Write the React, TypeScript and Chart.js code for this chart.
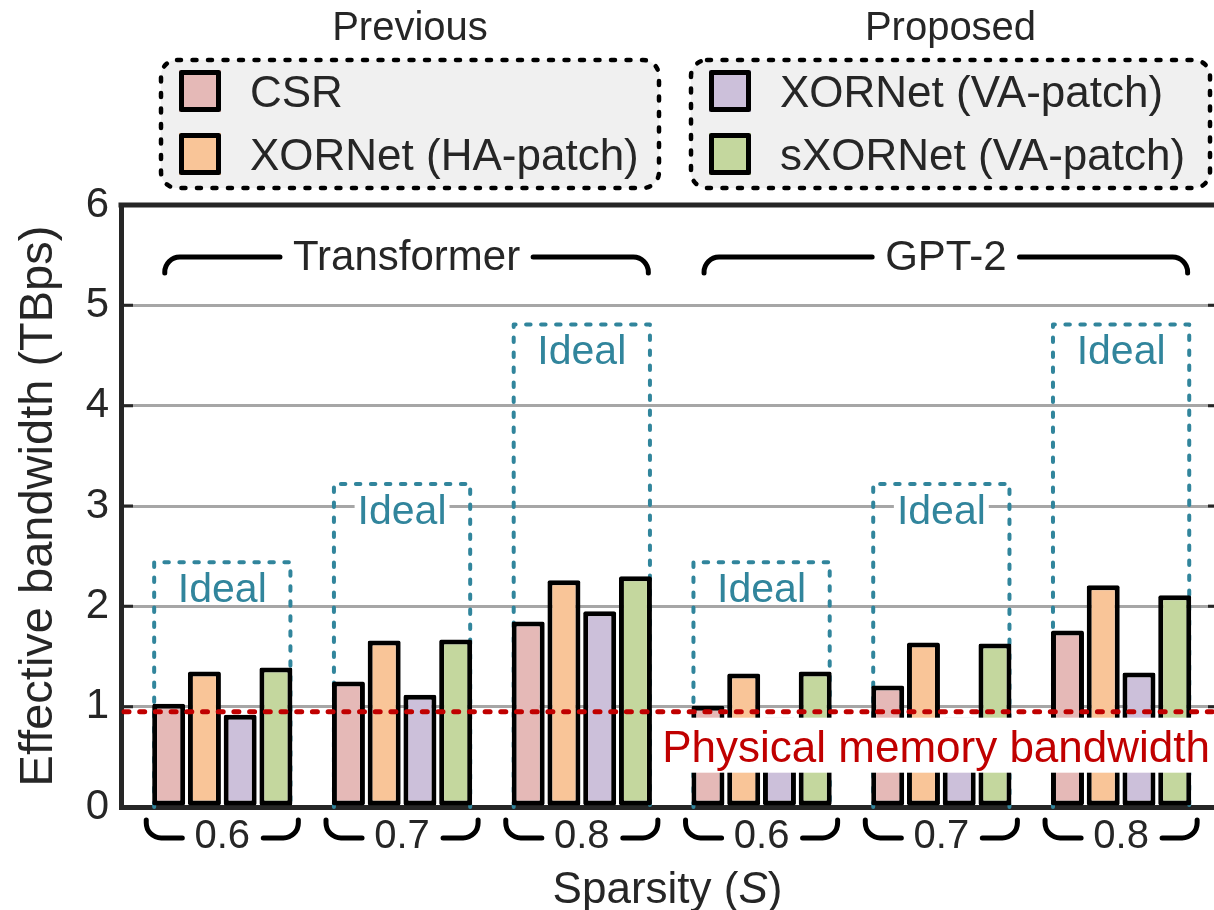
import React, { useEffect, useRef } from 'react';
import { Chart, registerables } from 'chart.js';

Chart.register(...registerables);

// ---------- data ----------
const sparsityLabels = ['0.6', '0.7', '0.8', '0.6', '0.7', '0.8'];
const modelNames = ['Transformer', 'GPT-2'];
const modelGroupIndexes = [[0, 1, 2], [3, 4, 5]];
const seriesNames = ['CSR', 'XORNet (HA-patch)', 'XORNet (VA-patch)', 'sXORNet (VA-patch)'];
const seriesColors = ['#E5B9B7', '#F9C598', '#CCC0DA', '#C4D79E'];
const csrValues = [1.03, 1.25, 1.85, 1.01, 1.21, 1.76];
const haPatchValues = [1.35, 1.66, 2.26, 1.33, 1.64, 2.21];
const vaPatchValues = [0.92, 1.12, 1.95, 0.89, 0.89, 1.34];
const sVaPatchValues = [1.39, 1.67, 2.3, 1.35, 1.63, 2.11];
const idealValues = [2.44, 3.22, 4.81, 2.44, 3.22, 4.81];
const physicalBandwidth = 0.95;
const yTickValues = [0, 1, 2, 3, 4, 5, 6];
const legendTitles = ['Previous', 'Proposed'];
const legendSeries = [[0, 1], [2, 3]];

// ---------- style ----------
const FONT = '"Liberation Sans", Arial, Helvetica, sans-serif';
const TEXT = '#262626';
const TEAL = '#31859C';
const RED = '#C00000';

const seriesValues = [csrValues, haPatchValues, vaPatchValues, sVaPatchValues];

function roundRectPath(ctx: CanvasRenderingContext2D, x: number, y: number, w: number, h: number, r: number) {
  ctx.beginPath();
  ctx.moveTo(x + r, y);
  ctx.lineTo(x + w - r, y);
  ctx.arcTo(x + w, y, x + w, y + r, r);
  ctx.lineTo(x + w, y + h - r);
  ctx.arcTo(x + w, y + h, x + w - r, y + h, r);
  ctx.lineTo(x + r, y + h);
  ctx.arcTo(x, y + h, x, y + h - r, r);
  ctx.lineTo(x, y + r);
  ctx.arcTo(x, y, x + r, y, r);
  ctx.closePath();
}

const overlayPlugin = {
  id: 'overlay',
  beforeDatasetsDraw(chart: any) {
    const { ctx, chartArea: a, scales } = chart;
    const y = scales.y;
    const m0 = chart.getDatasetMeta(0);
    const m3 = chart.getDatasetMeta(3);
    ctx.save();
    idealValues.forEach((v, i) => {
      const b0 = m0.data[i];
      const b3 = m3.data[i];
      const l = b0.x - b0.width / 2 + 2;
      const r = b3.x + b3.width / 2 - 2;
      const t = y.getPixelForValue(v);
      ctx.setLineDash([4.5, 10.5]);
      ctx.lineCap = 'round';
      ctx.lineJoin = 'round';
      ctx.lineWidth = 4;
      ctx.strokeStyle = TEAL;
      ctx.beginPath();
      ctx.moveTo(l, a.bottom);
      ctx.lineTo(l, t);
      ctx.lineTo(r, t);
      ctx.lineTo(r, a.bottom);
      ctx.stroke();
      ctx.setLineDash([]);
      ctx.font = `41px ${FONT}`;
      const w = ctx.measureText('Ideal').width;
      const cx = (l + r) / 2;
      ctx.fillStyle = '#ffffff';
      ctx.fillRect(cx - w / 2 - 3, t + 8, w + 6, 34);
      ctx.fillStyle = TEAL;
      ctx.textAlign = 'center';
      ctx.textBaseline = 'alphabetic';
      ctx.fillText('Ideal', cx, t + 40);
    });
    ctx.restore();
  },
  afterDatasetsDraw(chart: any) {
    const { ctx, chartArea: a, scales } = chart;
    const py = scales.y.getPixelForValue(physicalBandwidth);
    ctx.save();
    ctx.strokeStyle = RED;
    ctx.lineWidth = 5;
    ctx.lineCap = 'round';
    ctx.setLineDash([5, 10.7]);
    ctx.beginPath();
    ctx.moveTo(a.left + 3, py);
    ctx.lineTo(a.right, py);
    ctx.stroke();
    ctx.setLineDash([]);
    ctx.font = `44px ${FONT}`;
    const label = 'Physical memory bandwidth';
    const w = ctx.measureText(label).width;
    const xr = a.right - 4;
    ctx.fillStyle = '#ffffff';
    ctx.fillRect(xr - w - 8, py + 6, w + 12, 55);
    ctx.fillStyle = RED;
    ctx.textAlign = 'right';
    ctx.textBaseline = 'alphabetic';
    ctx.fillText(label, xr, py + 50);
    ctx.restore();
  },
  afterDraw(chart: any) {
    const { ctx, chartArea: a, scales } = chart;
    const x = scales.x;
    const y = scales.y;
    const unit = x.getPixelForValue(1) - x.getPixelForValue(0);
    ctx.save();

    // top frame line
    ctx.strokeStyle = TEXT;
    ctx.lineWidth = 5;
    ctx.lineCap = 'butt';
    ctx.beginPath();
    ctx.moveTo(a.left - 2.5, a.top);
    ctx.lineTo(a.right, a.top);
    ctx.stroke();

    // inward tick marks
    ctx.lineWidth = 3;
    yTickValues.forEach((v) => {
      if (v === 0 || v === 6) return;
      const py = y.getPixelForValue(v);
      ctx.beginPath();
      ctx.moveTo(a.left, py);
      ctx.lineTo(a.left + 12, py);
      ctx.moveTo(a.right - 6, py);
      ctx.lineTo(a.right, py);
      ctx.stroke();
    });

    // model brackets
    ctx.lineWidth = 5;
    ctx.lineCap = 'round';
    ctx.strokeStyle = '#000';
    ctx.font = `42px ${FONT}`;
    ctx.fillStyle = TEXT;
    ctx.textAlign = 'center';
    ctx.textBaseline = 'alphabetic';
    modelNames.forEach((name, gi) => {
      const idx = modelGroupIndexes[gi];
      const l = x.getPixelForValue(idx[0]) - 0.32 * unit;
      const r = x.getPixelForValue(idx[idx.length - 1]) + 0.37 * unit;
      const cx = (l + r) / 2;
      const w = ctx.measureText(name).width;
      const ly = 257;
      const rad = 15;
      ctx.beginPath();
      ctx.moveTo(l, ly + 16);
      ctx.arcTo(l, ly, l + rad, ly, rad);
      ctx.lineTo(cx - w / 2 - 13, ly);
      ctx.moveTo(cx + w / 2 + 13, ly);
      ctx.lineTo(r - rad, ly);
      ctx.arcTo(r, ly, r, ly + 16, rad);
      ctx.lineTo(r, ly + 16);
      ctx.stroke();
      ctx.fillText(name, cx, 270);
    });

    // sparsity brackets under the axis
    sparsityLabels.forEach((lab, i) => {
      const cx = x.getPixelForValue(i);
      const l = cx - 0.423 * unit;
      const r = cx + 0.423 * unit;
      const ly = 838;
      const rad = 15;
      ctx.beginPath();
      ctx.moveTo(l, ly - 18);
      ctx.arcTo(l, ly, l + rad, ly, rad);
      ctx.lineTo(cx - 40, ly);
      ctx.moveTo(cx + 41, ly);
      ctx.lineTo(r - rad, ly);
      ctx.arcTo(r, ly, r, ly - rad, rad);
      ctx.lineTo(r, ly - 18);
      ctx.stroke();
    });

    // y title
    ctx.save();
    ctx.translate(52, (a.top + a.bottom) / 2);
    ctx.rotate(-Math.PI / 2);
    ctx.font = `47px ${FONT}`;
    ctx.fillStyle = TEXT;
    ctx.textAlign = 'center';
    ctx.textBaseline = 'alphabetic';
    ctx.fillText('Effective bandwidth (TBps)', 0, 0);
    ctx.restore();

    // x title with italic S
    const partA = 'Sparsity (';
    const partB = 'S';
    const partC = ')';
    ctx.textAlign = 'left';
    ctx.fillStyle = TEXT;
    ctx.font = `44px ${FONT}`;
    const wA = ctx.measureText(partA).width;
    const wC = ctx.measureText(partC).width;
    ctx.font = `italic 44px ${FONT}`;
    const wB = ctx.measureText(partB).width;
    const total = wA + wB + wC;
    let tx = (a.left + a.right) / 2 - total / 2;
    const ty = 903;
    ctx.font = `44px ${FONT}`;
    ctx.fillText(partA, tx, ty);
    tx += wA;
    ctx.font = `italic 44px ${FONT}`;
    ctx.fillText(partB, tx, ty);
    tx += wB;
    ctx.font = `44px ${FONT}`;
    ctx.fillText(partC, tx, ty);

    // legends
    const boxes = [
      { x: 161, w: 498 },
      { x: 691, w: 519 },
    ];
    const by = 60;
    const bh = 128;
    legendTitles.forEach((title, gi) => {
      const b = boxes[gi];
      ctx.fillStyle = '#f0f0f0';
      roundRectPath(ctx, b.x, by, b.w, bh, 16);
      ctx.fill();
      ctx.setLineDash([4, 11.5]);
      ctx.lineWidth = 4.5;
      ctx.lineCap = 'round';
      ctx.strokeStyle = '#000';
      ctx.stroke();
      ctx.setLineDash([]);

      ctx.font = `40px ${FONT}`;
      ctx.fillStyle = TEXT;
      ctx.textAlign = 'center';
      ctx.fillText(title, b.x + b.w / 2, 40);

      legendSeries[gi].forEach((si, row) => {
        const ds = chart.data.datasets[si];
        const sy = 70 + row * 63;
        const sx = b.x + 18;
        ctx.fillStyle = ds.backgroundColor;
        ctx.fillRect(sx, sy, 42, 42);
        ctx.lineWidth = 5;
        ctx.strokeStyle = '#000';
        ctx.lineJoin = 'round';
        ctx.strokeRect(sx + 2.5, sy + 2.5, 37, 37);
        ctx.font = `44px ${FONT}`;
        ctx.fillStyle = TEXT;
        ctx.textAlign = 'left';
        ctx.fillText(ds.label, b.x + 89, sy + 37);
      });
    });

    ctx.restore();
  },
};

export default function App() {
  const canvasRef = useRef<HTMLCanvasElement | null>(null);

  useEffect(() => {
    const canvas = canvasRef.current;
    if (!canvas) return;
    const chart = new Chart(canvas, {
      type: 'bar',
      data: {
        datasets: seriesNames.map((name, si) => ({
          label: name,
          data: seriesValues[si].map((v, i) => ({ x: i, y: v })),
          backgroundColor: seriesColors[si],
          borderColor: '#000000',
          borderWidth: 5,
          borderSkipped: false,
          borderRadius: 2,
          categoryPercentage: 0.7955,
          barPercentage: 0.923,
        })),
      },
      options: {
        responsive: false,
        animation: false,
        events: [],
        layout: { padding: { top: 205, right: 0, bottom: 0, left: 0 } },
        plugins: {
          legend: { display: false },
          tooltip: { enabled: false },
          title: { display: false },
        },
        scales: {
          x: {
            type: 'linear',
            offset: false,
            min: -0.5635,
            max: 5.5168,
            afterBuildTicks: (axis: any) => {
              axis.ticks = sparsityLabels.map((_, i) => ({ value: i }));
            },
            afterFit: (axis: any) => {
              axis.height = 103;
            },
            grid: { display: false, drawTicks: false, tickLength: 0, offset: false },
            border: { display: true, color: TEXT, width: 5 },
            ticks: {
              autoSkip: false,
              maxRotation: 0,
              padding: 6,
              color: TEXT,
              font: { family: FONT, size: 40 },
              callback: (_v: any, i: number) => sparsityLabels[i],
            },
          },
          y: {
            min: 0,
            max: 6,
            afterBuildTicks: (axis: any) => {
              axis.ticks = yTickValues.map((v) => ({ value: v }));
            },
            afterFit: (axis: any) => {
              axis.width = 121;
            },
            grid: {
              drawTicks: false,
              tickLength: 0,
              color: (c: any) => (c.tick && (c.tick.value === 0 || c.tick.value === 6) ? 'rgba(0,0,0,0)' : '#a6a6a6'),
              lineWidth: 3,
            },
            border: { display: true, color: TEXT, width: 5 },
            ticks: {
              padding: 12,
              color: TEXT,
              font: { family: FONT, size: 42 },
              callback: (v: any) => String(v),
            },
          },
        },
      },
      plugins: [overlayPlugin],
    } as any);
    return () => chart.destroy();
  }, []);

  return (
    <div style={{ position: 'absolute', left: 0, top: 0, width: 1214, height: 910, background: '#ffffff' }}>
      <canvas ref={canvasRef} width={1214} height={910} style={{ display: 'block' }} />
    </div>
  );
}
